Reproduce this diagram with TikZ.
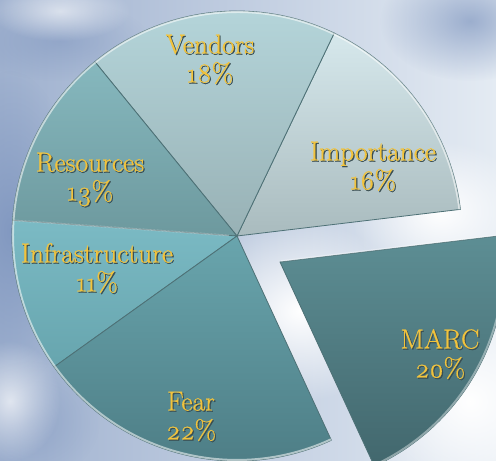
\documentclass[tikz,border=0pt]{standalone}
\usepackage{fontspec}
\setmainfont{Latin Modern Roman}[Numbers=OldStyle]
\newfontfamily\lblfont{Latin Modern Roman}[Numbers=OldStyle, FakeBold=0.6]
\usetikzlibrary{fadings}
\tikzfading[name=softblob, inner color=transparent!0, outer color=transparent!100]
\definecolor{goldc}{HTML}{F2C33C}
\definecolor{shadc}{HTML}{3A4E52}
\definecolor{edgec}{HTML}{4E7176}
\definecolor{skyA}{HTML}{9FB1CF}
\definecolor{skyB}{HTML}{E4EBF3}
\definecolor{skyBlue}{HTML}{7F96BF}
\definecolor{impT}{HTML}{D6E8EC}\definecolor{impB}{HTML}{A9BBBE}
\definecolor{venT}{HTML}{B6D7DC}\definecolor{venB}{HTML}{98B1B5}
\definecolor{resT}{HTML}{86B8BE}\definecolor{resB}{HTML}{6D999E}
\definecolor{infT}{HTML}{7BBAC4}\definecolor{infB}{HTML}{67A5AE}
\definecolor{feaT}{HTML}{69A5AD}\definecolor{feaB}{HTML}{4B7A82}
\definecolor{marT}{HTML}{5D8E94}\definecolor{marB}{HTML}{42676D}
\newcommand\lbltab[1]{\begin{tabular}{@{}c@{}}#1\end{tabular}}
\newcommand\shd[1]{\leavevmode\rlap{\kern1.2pt\raisebox{-1.2pt}{\color{shadc}\lbltab{#1}}}\lbltab{#1}}
\tikzset{
  slice/.style={draw=edgec, line width=0.8pt, line join=round},
  rim/.style={white, opacity=0.55, line width=2pt},
  lbl/.style={text=goldc, font=\lblfont\fontsize{27.5}{28}\selectfont, inner sep=0pt},
  cloud/.style={fill=white, path fading=softblob},
  bluecloud/.style={fill=skyBlue, path fading=softblob},
}
\begin{document}
\begin{tikzpicture}[x=1pt,y=1pt]
\useasboundingbox (0,0) rectangle (496,461);
\clip (0,0) rectangle (496,461);
% sky
\shade[left color=skyA, right color=skyB] (0,0) rectangle (496,461);
\fill[bluecloud, opacity=0.9] (10,230) ellipse (70 and 160);
\fill[bluecloud, opacity=0.7] (470,440) ellipse (90 and 60);
\fill[bluecloud, opacity=0.5] (60,420) ellipse (90 and 40);
\fill[bluecloud, opacity=0.5] (30,40) ellipse (70 and 60);
\fill[cloud] (300,150) ellipse (110 and 90);
\fill[cloud] (470,60) ellipse (120 and 120);
\fill[cloud] (440,250) ellipse (90 and 70);
\fill[cloud, opacity=0.6] (60,450) ellipse (70 and 30);
\fill[cloud, opacity=0.7] (10,60) ellipse (50 and 60);
\coordinate (C) at (237,225);
\coordinate (M) at (280,199);
% slices
\path[slice, top color=impT, bottom color=impB]
  (C) -- ++(6.8:225pt) arc[start angle=6.8, end angle=64.4, radius=225pt] -- cycle;
\path[slice, top color=venT, bottom color=venB]
  (C) -- ++(64.4:225pt) arc[start angle=64.4, end angle=129.2, radius=225pt] -- cycle;
\path[slice, top color=resT, bottom color=resB]
  (C) -- ++(129.2:225pt) arc[start angle=129.2, end angle=176, radius=225pt] -- cycle;
\path[slice, top color=infT, bottom color=infB]
  (C) -- ++(176:225pt) arc[start angle=176, end angle=215.6, radius=225pt] -- cycle;
\path[slice, top color=feaT, bottom color=feaB]
  (C) -- ++(215.6:225pt) arc[start angle=215.6, end angle=294.8, radius=225pt] -- cycle;
\path[slice, top color=marT, bottom color=marB]
  (M) -- ++(294.8:225pt) arc[start angle=294.8, end angle=366.8, radius=225pt] -- cycle;
% rim highlights
\draw[rim] (C) ++(6.8:224pt) arc[start angle=6.8, end angle=294.8, radius=224pt];
\draw[rim, opacity=0.4] (M) ++(294.8:224pt) arc[start angle=294.8, end angle=366.8, radius=224pt];
\draw[rim, opacity=0.35, line width=1.5pt] (M) ++(1,1) -- ++(6.8:225pt);
\draw[rim, opacity=0.35, line width=1.5pt] (C) ++(176:223pt) -- ++(356:215pt);
% labels
\node[lbl] (vend) at (210,398) {\shd{Vendors\\18\%}};
\node[lbl] (impo) at (373,291) {\shd{Importance\\16\%}};
\node[lbl] (reso) at (90,280) {\shd{Resources\\13\%}};
\node[lbl] (infr) at (97,189) {\shd{Infrastructure\\11\%}};
\node[lbl] (fear) at (191,41) {\shd{Fear\\22\%}};
\node[lbl] (marc) at (440,103) {\shd{MARC\\20\%}};
\end{tikzpicture}
\end{document}
